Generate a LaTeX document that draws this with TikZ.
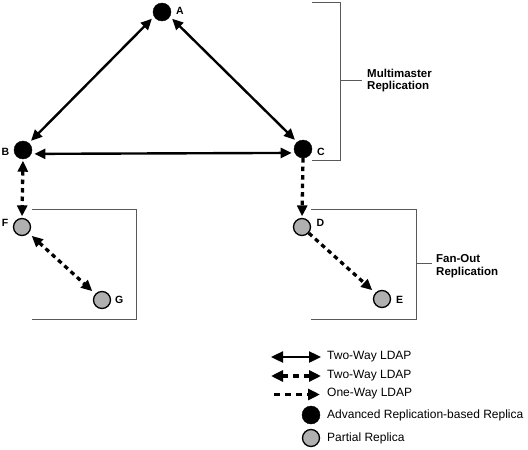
\documentclass[tikz,border=0pt]{standalone}
\usepackage{fontspec}
\setmainfont{Liberation Sans}
\usetikzlibrary{arrows.meta}
\definecolor{repgray}{gray}{0.69}
\definecolor{brk}{gray}{0.35}
\begin{document}
\begin{tikzpicture}[x=1pt,y=-1pt,
  master/.style={circle,fill=black,draw=black,minimum size=18pt,inner sep=0pt},
  partial/.style={circle,fill=repgray,draw=black,line width=1.3pt,minimum size=17pt,inner sep=0pt},
  lbl/.style={font=\fontsize{10.5}{12}\selectfont\bfseries,inner sep=0pt},
  grp/.style={font=\fontsize{11.5}{12.5}\selectfont\bfseries,inner sep=0pt,align=left,anchor=west},
  legtxt/.style={font=\fontsize{12}{13}\selectfont,inner sep=0pt,anchor=west},
  tip/.tip={Triangle[length=11pt,width=10pt]},
  ltip/.tip={Triangle[length=12pt,width=11pt]},
  solidlink/.style={line width=2.4pt,tip-tip,shorten <=3pt,shorten >=3pt},
  dashlink/.style={line width=3.3pt,dash pattern=on 4.5pt off 4pt},
  bracketline/.style={draw=brk,line width=0.9pt}
]
\useasboundingbox (0,0) rectangle (528,450);

% nodes
\node[master] (A) at (162,12) {};
\node[master] (B) at (23,150) {};
\node[master] (C) at (303,149) {};
\node[partial] (F) at (22,227) {};
\node[partial] (D) at (302,227) {};
\node[partial] (G) at (102,300) {};
\node[partial] (E) at (382,299) {};

% labels
\node[lbl,anchor=west] (lA) at (176,11) {A};
\node[lbl,anchor=east] (lB) at (9.5,151.5) {B};
\node[lbl,anchor=west] (lC) at (317,152) {C};
\node[lbl,anchor=east] (lF) at (8.5,222.5) {F};
\node[lbl,anchor=west] (lD) at (316.5,223) {D};
\node[lbl,anchor=west] (lG) at (115,300) {G};
\node[lbl,anchor=west] (lE) at (396,300) {E};

% connectors
\draw[solidlink] (A.-150) -- (B.50);
\draw[solidlink] (A.-30) -- (C.130);
\draw[solidlink] (B.-25) -- (C.-155);
\draw[dashlink,tip-tip,shorten <=1.5pt,shorten >=1.5pt] (B.south) -- (F.north);
\draw[dashlink,-tip,shorten >=1.5pt] (C.south) -- (D.north);
\draw[dashlink,tip-tip,shorten <=4pt,shorten >=4pt] (F) -- (G);
\draw[dashlink,-tip,shorten >=4pt] (D) -- (E);

% brackets and boxes
\draw[bracketline] (312,2) -- (340.5,2) -- (340.5,160.5) -- (312,160.5);
\draw[bracketline] (340.5,80) -- (362,80);
\node[grp] (mm) at (367,80.5) {Multimaster\\Replication};

\draw[bracketline] (32,209) -- (136,209) -- (136,319) -- (32,319);
\draw[bracketline] (311,209) -- (416,209) -- (416,319) -- (311,319);
\draw[bracketline] (416,263) -- (432,263);
\node[grp] (fo) at (436,266) {Fan-Out\\Replication};

% legend
\coordinate (l1a) at (271,357); \coordinate (l1b) at (321,357);
\coordinate (l2a) at (271,376); \coordinate (l2b) at (321,376);
\coordinate (l3a) at (274,394.5); \coordinate (l3b) at (320,394.5);
\draw[line width=2.4pt,ltip-ltip] (l1a) -- (l1b);
\draw[line width=3.3pt,dash pattern=on 6pt off 5pt,ltip-ltip] (l2a) -- (l2b);
\draw[line width=3.3pt,dash pattern=on 6pt off 5pt,-ltip] (l3a) -- (l3b);
\node[master] (lm) at (311,415) {};
\node[partial] (lp) at (311,438) {};
\node[legtxt] (t1) at (327,357) {Two-Way LDAP};
\node[legtxt] (t2) at (327,375.5) {Two-Way LDAP};
\node[legtxt] (t3) at (327,394) {One-Way LDAP};
\node[legtxt] (t4) at (327,415.5) {Advanced Replication-based Replica};
\node[legtxt] (t5) at (327,438) {Partial Replica};
\end{tikzpicture}
\end{document}
